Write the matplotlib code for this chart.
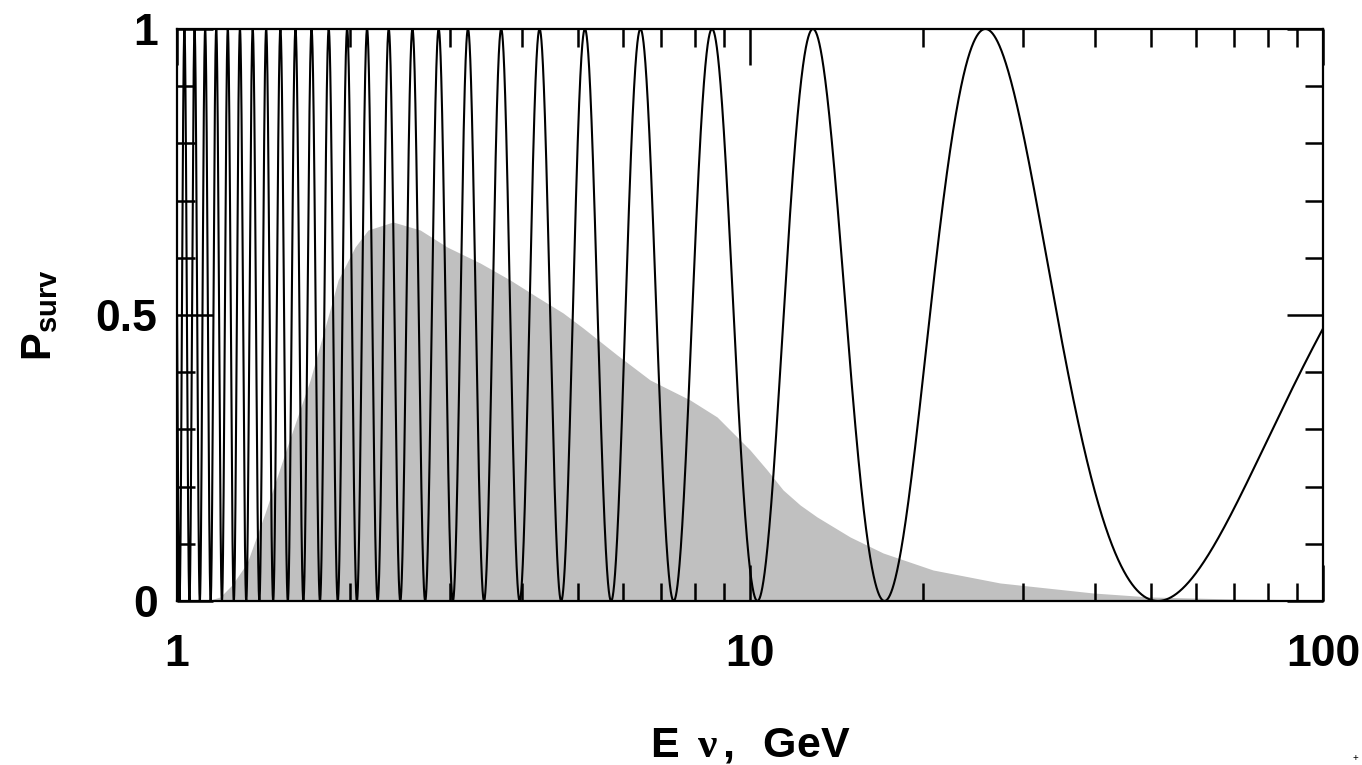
import numpy as np
import matplotlib
matplotlib.use("Agg")
import matplotlib.pyplot as plt
from matplotlib.ticker import FixedLocator, LogLocator, NullFormatter

# ---- data ----
# oscillation survival probability: P = 1 - A * sin^2(pi/2 * E_min / E)
osc_first_min_energy = 51.5   # GeV, position of the highest-energy minimum
osc_amplitude = 1.0

# shaded neutrino energy spectrum (arbitrary units on the same axis)
spec_energy = [1.0, 1.119, 1.142, 1.189, 1.247, 1.325, 1.424, 1.556, 1.707, 1.842,
               1.910, 2.045, 2.154, 2.382, 2.656, 2.960, 3.380, 3.813, 4.249, 4.718,
               5.112, 5.861, 6.692, 7.859, 8.759, 9.491, 10.0, 10.71, 11.42, 12.23,
               13.09, 14.95, 17.07, 20.86, 27.31, 39.68, 49.90, 69.66, 100.0]
spec_value = [0.0, 0.0, 0.0017, 0.0070, 0.0280, 0.0664, 0.1538, 0.2692, 0.3864, 0.5035,
              0.5612, 0.6189, 0.6486, 0.6626, 0.6486, 0.6189, 0.5909, 0.5612, 0.5315, 0.5035,
              0.4773, 0.4301, 0.3864, 0.3514, 0.3217, 0.2867, 0.2640, 0.2290, 0.1941, 0.1678,
              0.1469, 0.1119, 0.0839, 0.0542, 0.0315, 0.0140, 0.0070, 0.0035, 0.0017]

x_ticks = [1, 10, 100]
x_ticklabels = ["1", "10", "100"]
y_ticks = [0, 0.5, 1]
y_ticklabels = ["0", "0.5", "1"]

# ---- style ----
plt.rcParams['font.family'] = ['Liberation Sans', 'DejaVu Sans']
plt.rcParams['font.weight'] = 'bold'
plt.rcParams['mathtext.fontset'] = 'custom'
plt.rcParams['mathtext.rm'] = 'Liberation Serif'
plt.rcParams['mathtext.bf'] = 'Liberation Sans:bold'
plt.rcParams['mathtext.it'] = 'Liberation Serif:italic'

fig = plt.figure(figsize=(13.62, 7.65), dpi=100)
ax = fig.add_axes([0.130, 0.2144, 0.8414, 0.7477])

ax.set_xscale('log')
ax.set_xlim(1, 100)
ax.set_ylim(0, 1)

# shaded spectrum
ax.fill_between(spec_energy, spec_value, 0, color='#c0c0c0', linewidth=0, zorder=1)

# oscillation curve
E = np.logspace(0, 2, 20000)
P = 1 - osc_amplitude * np.sin(np.pi / 2 * osc_first_min_energy / E) ** 2
ax.plot(E, P, color='black', linewidth=1.5, zorder=2)

for s in ax.spines.values():
    s.set_linewidth(1.6)
    s.set_zorder(3)

ax.xaxis.set_major_locator(FixedLocator(x_ticks))
ax.set_xticklabels(x_ticklabels)
ax.xaxis.set_minor_locator(LogLocator(base=10, subs=np.arange(2, 10)))
ax.xaxis.set_minor_formatter(NullFormatter())
ax.yaxis.set_major_locator(FixedLocator(y_ticks))
ax.set_yticklabels(y_ticklabels)
ax.yaxis.set_minor_locator(FixedLocator(np.arange(0.1, 1.0, 0.1)))

ax.tick_params(which='both', direction='in', top=True, right=True, width=1.8)
ax.tick_params(which='major', length=26)
ax.tick_params(which='minor', length=13)
ax.tick_params(axis='x', which='major', pad=24, labelsize=32)
ax.tick_params(axis='y', which='major', pad=14, labelsize=32)
for lab in ax.get_xticklabels() + ax.get_yticklabels():
    lab.set_fontweight('bold')

ax.set_xlabel(r'$\mathbf{E}\;\;\mathrm{\nu}\,\mathbf{,\ \ GeV}$', fontsize=31, labelpad=36)
ax.set_ylabel(r'$\mathbf{P_{surv}}$', fontsize=30, labelpad=26)

fig.text(0.9955, 0.003, '+', fontsize=7, fontweight='normal', ha='center', va='bottom')

fig.savefig('out.png', dpi=100)
